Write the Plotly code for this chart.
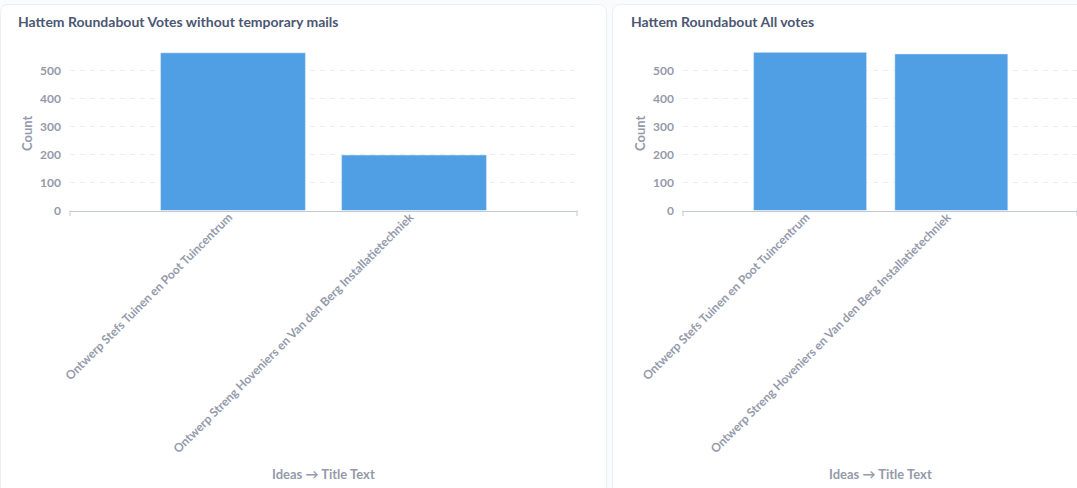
import plotly.graph_objects as go

# Data
ideas = [
    "Ontwerp Stefs Tuinen en Poot Tuincentrum",
    "Ontwerp Streng Hoveniers en Van den Berg Installatietechniek",
]
votes_no_temp = [563, 198]
votes_all = [565, 559]
y_ticks = [0, 100, 200, 300, 400, 500]

W, H = 1077, 488
BLUE = "#509ee3"
LIGHT = "#949aab"
DARK = "#4c5773"
FONT = "Lato"


def px_x(v):
    return v / W


def px_y(v):
    # pixel from top -> paper fraction
    return 1 - v / H


def card_path(x0, y0, x1, y1, r=8):
    """Rounded card outline in paper coords (pixel input)"""
    rx, ry = r / W, r / H
    a, b, c, d = px_x(x0), px_y(y0), px_x(x1), px_y(y1)
    return (f"M {a},{d} L {a},{b - ry} Q {a},{b} {a + rx},{b} "
            f"L {c - rx},{b} Q {c},{b} {c},{b - ry} L {c},{d} Z")


fig = go.Figure()

fig.add_trace(go.Bar(x=ideas, y=votes_no_temp, marker_color=BLUE,
                     xaxis="x", yaxis="y", hoverinfo="x+y"))
fig.add_trace(go.Bar(x=ideas, y=votes_all, marker_color=BLUE,
                     xaxis="x2", yaxis="y2", hoverinfo="x+y"))

y_dom = [px_y(210.5), px_y(52.3)]
tick_font = dict(family=FONT, size=12, color=LIGHT, weight=700)

xaxis_common = dict(
    type="category", range=[-0.9, 1.9], tickangle=-45, showgrid=False,
    showline=True, linecolor="#c3c7d0", linewidth=1, ticks="",
    ticklabelstandoff=-6, ticklabelshift=-4,
    tickfont=tick_font, automargin=False, fixedrange=True,
)
yaxis_common = dict(
    range=[0, 565], tickvals=y_ticks, showgrid=True, gridcolor="#eaedf1",
    griddash="5px,5px", zeroline=False, showline=False, ticks="",
    ticklabelstandoff=8, tickfont=tick_font, automargin=False,
    domain=y_dom, fixedrange=True,
)

fig.update_layout(
    width=W, height=H,
    margin=dict(l=0, r=0, t=0, b=0),
    paper_bgcolor="#f9fbfc",
    plot_bgcolor="rgba(0,0,0,0)",
    showlegend=False,
    bargap=0.2,
    xaxis=dict(domain=[px_x(70), px_x(577)], anchor="y", **xaxis_common),
    yaxis=dict(anchor="x", **yaxis_common),
    xaxis2=dict(domain=[px_x(683), 1.0], anchor="y2",
                **{**xaxis_common, "range": [-0.9, 1.89]}),
    yaxis2=dict(anchor="x2", **yaxis_common),
)

# Cards behind the charts
for x0, x1 in [(0.5, 606.5), (612.5, 1090)]:
    fig.add_shape(type="path", path=card_path(x0, 4.5, x1, 500),
                  xref="paper", yref="paper", layer="below",
                  fillcolor="white", line=dict(color="#edf0f3", width=1))

# Small end ticks on the category axes
for ax in ["x", "x2"]:
    for xd in [0, 1]:
        fig.add_shape(type="line", xref=f"{ax} domain", yref="paper",
                      x0=xd, x1=xd, y0=px_y(210.5), y1=px_y(216),
                      line=dict(color="#c3c7d0", width=1))

# Card titles
for x, text in [(16, "Hattem Roundabout Votes without temporary mails"),
                (629, "Hattem Roundabout All votes")]:
    fig.add_annotation(x=px_x(x), y=px_y(22), xref="paper", yref="paper",
                       xanchor="left", yanchor="middle", showarrow=False,
                       text=text,
                       font=dict(family=FONT, size=14, color=DARK, weight=700))

# Axis titles
axis_title_font = dict(family=FONT, size=13, color=LIGHT, weight=700)
for x in [27, 640]:
    fig.add_annotation(x=px_x(x), y=px_y(133), xref="paper", yref="paper",
                       xanchor="center", yanchor="middle",
                       showarrow=False, text="Count", textangle=-90,
                       font=axis_title_font)
for x in [323.5, 880]:
    fig.add_annotation(x=px_x(x), y=px_y(474), xref="paper", yref="paper",
                       xanchor="center", yanchor="middle",
                       showarrow=False, text="Ideas → Title Text",
                       font=axis_title_font)

# drop the default body margin so the figure sits at the window origin
fig.write_html("out.html",
               config={"displayModeBar": False},
               post_script="document.body.style.margin='0';"
                           "document.body.style.overflow='hidden';")
